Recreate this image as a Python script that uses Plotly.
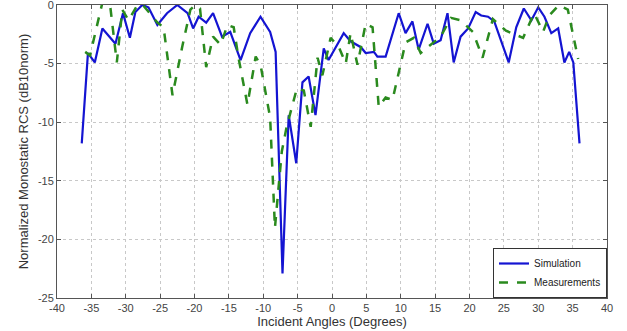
import plotly.graph_objects as go

sim_x = [-36.4, -35.5, -34.5, -33.4, -31.5, -30.4, -29.4, -28.6, -27.6, -26.7, -25.4, -24.0,
         -22.5, -21.0, -20.2, -19.4, -18.3, -17.3, -16.0, -14.8, -13.3, -11.9, -10.4, -9.0,
         -8.2, -7.2, -6.3, -5.2, -4.3, -3.4, -2.4, -1.2, -0.5, 1.7, 2.7, 4.2, 4.9, 6.1, 6.6,
         7.8, 9.7, 10.7, 11.7, 12.6, 13.9, 14.8, 15.8, 16.8, 17.7, 18.7, 19.8, 20.9, 21.7,
         22.7, 23.6, 25.7, 26.8, 27.9, 29.0, 30.0, 30.9, 31.9, 32.9, 33.8, 34.5, 35.1, 36.0]
sim_y = [-11.8, -4.1, -4.9, -2.0, -3.3, -0.7, -2.8, -0.6, 0.0, -0.2, -1.7, -0.7,
         0.0, -0.7, -2.0, -1.0, -1.5, -0.7, -2.7, -2.3, -4.7, -2.4, -1.0, -2.3,
         -4.0, -22.9, -9.4, -13.5, -6.6, -6.1, -9.4, -3.7, -4.7, -2.4, -3.1, -3.6, -4.1, -4.0, -4.4,
         -4.4, -0.7, -2.4, -1.4, -3.8, -1.6, -3.3, -3.0, -0.7, -4.9, -2.7, -2.0, -0.6, -0.9,
         -1.0, -1.4, -4.9, -1.9, -0.3, -1.3, -0.2, -1.0, -2.4, -2.0, -4.9, -4.0, -4.9, -11.8]

meas_x = [-35.9, -35.2, -33.4, -32.3, -31.3, -30.5, -29.6, -28.3, -27.5, -25.4, -24.5, -23.2,
          -21.8, -20.6, -19.9, -19.2, -18.3, -17.3, -16.2, -15.2, -14.3, -13.6, -12.3, -11.1,
          -10.4, -9.0, -8.3, -7.3, -6.6, -5.1, -4.1, -3.1, -2.1, -1.4, -0.2, 1.0, 2.0, 2.7,
          3.7, 4.9, 5.9, 6.8, 7.8, 8.8, 10.7, 11.9, 12.9, 14.6, 15.8, 17.3, 18.7, 20.5, 21.9,
          23.4, 25.3, 27.8, 29.4, 30.7, 31.6, 33.0, 34.3, 35.8]
meas_y = [-4.0, -4.3, 0.2, 0.1, -4.9, -0.4, -1.3, 0.0, 0.0, -1.5, -1.9, -7.7,
          -3.6, -0.4, 0.0, -0.3, -5.3, -2.7, -3.4, -1.7, -1.9, -4.5, -8.5, -4.4,
          -5.1, -9.6, -19.0, -12.5, -10.4, -7.1, -7.3, -10.4, -4.5, -6.0, -2.8, -3.6, -5.0, -2.4,
          -5.1, -1.6, -1.9, -8.7, -7.9, -8.1, -3.2, -2.8, -4.1, -3.3, -2.7, -1.1, -1.3, -2.3, -4.5,
          -1.2, -2.2, -2.8, -0.7, -2.3, -0.9, 0.0, -0.4, -4.6]

x_ticks = [-40, -35, -30, -25, -20, -15, -10, -5, 0, 5, 10, 15, 20, 25, 30, 35, 40]
y_ticks = [-25, -20, -15, -10, -5, 0]

fig = go.Figure()
fig.add_trace(go.Scatter(x=sim_x, y=sim_y, mode="lines", name="Simulation",
                         line=dict(color="#1414d2", width=2.2)))
fig.add_trace(go.Scatter(x=meas_x, y=meas_y, mode="lines", name="Measurements",
                         line=dict(color="#2a8a1e", width=2.5, dash="dash")))

axis_common = dict(showline=True, linecolor="#555555", linewidth=1, mirror="ticks",
                   ticks="inside", ticklen=4, tickcolor="#555555",
                   showgrid=True, gridcolor="#c8c8c8", griddash="dot", gridwidth=1,
                   zeroline=False, ticklabeloverflow="allow", automargin=False,
                   tickfont=dict(family="Liberation Sans, Arial", size=11, color="#444444"))

fig.update_xaxes(range=[-40, 40], tickvals=x_ticks, ticktext=[str(v) for v in x_ticks],
                 title=dict(text="Incident Angles (Degrees)", standoff=0,
                            font=dict(family="Liberation Sans, Arial", size=13, color="#333333")),
                 **axis_common)
fig.update_yaxes(range=[-25, 0], tickvals=y_ticks, ticktext=[str(v) for v in y_ticks],
                 title=dict(text="Normalized Monostatic RCS (dB10norm)", standoff=6,
                            font=dict(family="Liberation Sans, Arial", size=13, color="#333333")),
                 **axis_common)

fig.update_layout(
    width=627, height=331,
    margin=dict(l=57, r=20, t=5, b=33, autoexpand=False),
    paper_bgcolor="white", plot_bgcolor="white",
    showlegend=True,
    legend=dict(x=1, y=0, xanchor="right", yanchor="bottom",
                bgcolor="white", bordercolor="#333333", borderwidth=1,
                font=dict(family="Liberation Sans, Arial", size=10, color="#222222"),
                tracegroupgap=0, itemwidth=30),
)

fig.write_html("out.html")
